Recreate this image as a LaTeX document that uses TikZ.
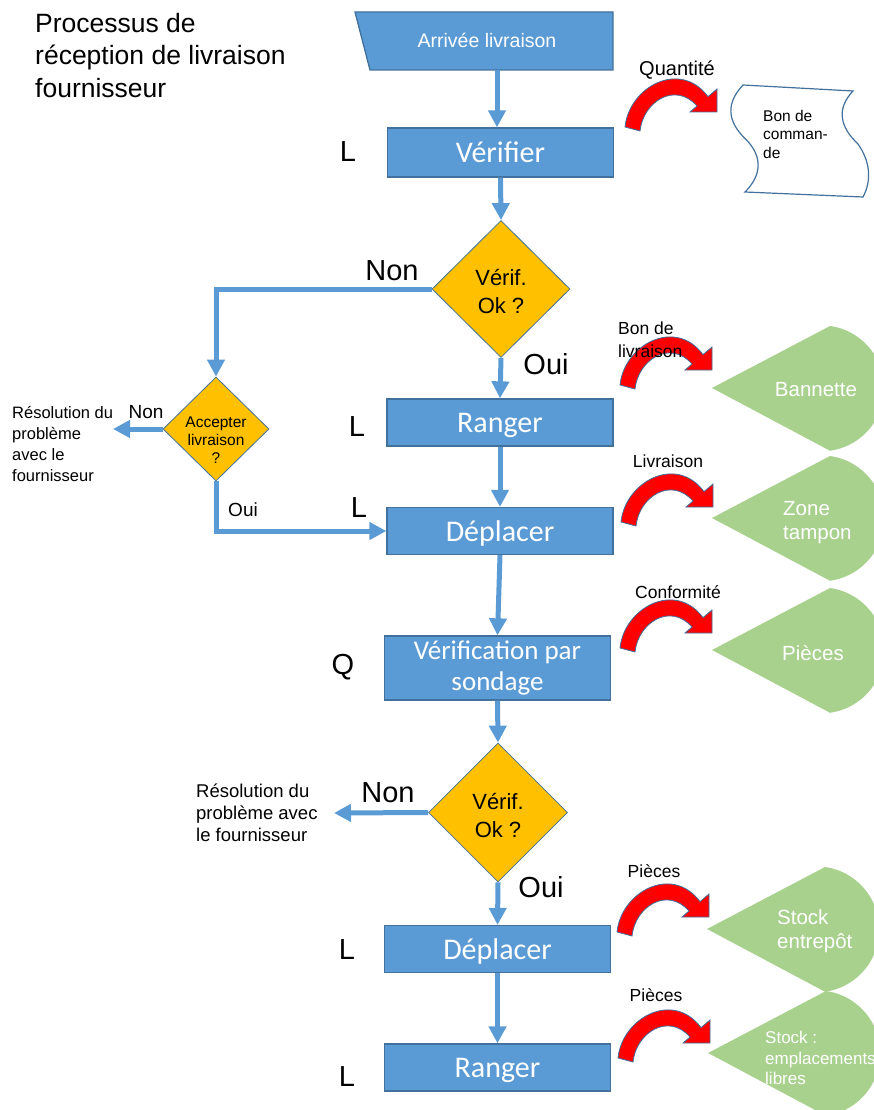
\documentclass[tikz,border=0pt]{standalone}
\usepackage{fontspec}
\setmainfont{Liberation Sans}
\newfontfamily\calfont{Carlito}
\usetikzlibrary{shapes.geometric,arrows.meta}
\definecolor{bluefill}{HTML}{5B9BD5}
\definecolor{blueline}{HTML}{41719C}
\definecolor{yel}{HTML}{FFC000}
\definecolor{grn}{HTML}{A9D18E}
\definecolor{redarr}{HTML}{FF0000}
\newcommand\myfs[2]{\fontsize{#1}{#2}\selectfont}
\tikzset{
 procbox/.style={draw=blueline, fill=bluefill, line width=1.3pt, minimum width=226pt, minimum height=47pt, inner sep=0pt, text=white, font=\calfont\myfs{30}{34}, text height=24pt, text depth=4pt},
 decision/.style={diamond, draw=blueline, fill=yel, line width=0.8pt, inner sep=0pt, aspect=1},
 flow/.style={draw=bluefill, line width=5pt, -{Triangle[width=17pt,length=17pt]}},
 biglbl/.style={inner sep=0pt, font=\myfs{29}{33}},
 smalllbl/.style={inner sep=0pt, font=\myfs{17.5}{23}},
 whitetxt/.style={inner sep=0pt, text=white, font=\myfs{20.5}{24}, align=left},
 redarrow/.pic={\filldraw[fill=redarr, draw=blueline, line width=0.8pt] (0,0) .. controls (4,-40) and (55,-68) .. (83,-30.4) -- (92,-38) -- (92,-15) -- (65,-15) -- (72,-21) .. controls (50,-46) and (18,-25) .. (15,4) -- cycle;},
 cone/.pic={\fill[grn] (0,0) -- (118,-62) arc[start angle=-82, end angle=82, radius=63] -- cycle;}
}
\begin{document}
\begin{tikzpicture}[x=1pt,y=-1pt]
\useasboundingbox (0,0) rectangle (874,1110);
% green cones
\pic at (712,388) {cone};
\pic at (712,518) {cone};
\pic at (712,650) {cone};
\pic at (707,929) {cone};
\pic at (708,1053) {cone};
% title
\node[anchor=west, inner sep=0pt, align=left, font=\myfs{26.5}{32.5}] (title) at (35,55.5) {Processus de\\réception de livraison\\fournisseur};
% start
\filldraw[fill=bluefill, draw=blueline, line width=1.3pt] (355,12) -- (613,12) -- (613,70) -- (370,70) -- cycle;
\node[text=white, font=\myfs{19.5}{22}, inner sep=0pt] (arrivee) at (487,40) {Arrivée livraison};
\coordinate (arrbot) at (497,70);
% boxes
\node[procbox, minimum height=49pt] (verifier) at (500.5,152.5) {Vérifier};
\node[procbox] (ranger1) at (500,422.5) {Ranger};
\node[procbox] (deplacer1) at (500,531) {Déplacer};
\node[procbox, minimum height=64pt, align=center, font=\calfont\myfs{27}{31}, text height=, text depth=] (sondage) at (497.5,668) {Vérification par\\sondage};
\node[procbox] (deplacer2) at (497.5,949) {Déplacer};
\node[procbox] (ranger2) at (497.5,1067.5) {Ranger};
% decisions
\node[decision, minimum width=138pt, minimum height=137pt] (d1) at (501,289) {};
\node[inner sep=0pt, align=center, font=\myfs{22}{28}] (d1t) at (501,292) {Vérif.\\Ok ?};
\node[decision, minimum width=106pt, minimum height=104pt] (d2) at (216,429) {};
\node[inner sep=0pt, align=center, font=\myfs{15.5}{18}] (d2t) at (216,440) {Accepter\\livraison\\?};
\node[decision, minimum width=139pt, minimum height=139pt] (d3) at (498,812.5) {};
\node[inner sep=0pt, align=center, font=\myfs{22}{28}] (d3t) at (498,815) {Vérif.\\Ok ?};
% connectors
\coordinate (n2end) at (113,429);
\coordinate (n3end) at (334,813);
\draw[flow] (arrbot) -- (arrbot |- verifier.north);
\draw[flow] (verifier.south) -- (d1.north);
\draw[flow] (d1.west) -| (d2.north);
\draw[flow] (d2.west) -- (n2end);
\draw[flow] (d2.south) |- (deplacer1.west);
\draw[flow] (d1.south) -- (ranger1.north);
\draw[flow] (ranger1.south) -- (deplacer1.north);
\draw[flow] (deplacer1.south) -- (sondage.north);
\draw[flow] (sondage.south) -- (d3.north);
\draw[flow] (d3.west) -- (n3end);
\draw[flow] (d3.south) -- (deplacer2.north);
\draw[flow] (deplacer2.south) -- (ranger2.north);
% side letters
\node[biglbl] (L1) at (348,152) {L};
\node[biglbl] (L2) at (357,427) {L};
\node[biglbl] (L3) at (359,508) {L};
\node[biglbl] (Q1) at (343,667) {Q};
\node[biglbl] (L4) at (347,950) {L};
\node[biglbl] (L5) at (347,1077) {L};
% branch labels
\node[biglbl] (non1) at (392,271) {Non};
\node[biglbl] (oui1) at (546,364) {Oui};
\node[biglbl] (non3) at (388,793) {Non};
\node[biglbl] (oui3) at (541,887) {Oui};
\node[inner sep=0pt, font=\myfs{19}{22}] (non2) at (146,412) {Non};
\node[inner sep=0pt, font=\myfs{19}{22}] (oui2) at (243,510) {Oui};
\node[anchor=west, inner sep=0pt, align=left, font=\myfs{16.5}{20.7}] (res1) at (12,444) {Résolution du\\problème\\avec le\\fournisseur};
\node[anchor=west, inner sep=0pt, align=left, font=\myfs{18.5}{22}] (res2) at (196,813) {Résolution du\\problème avec\\le fournisseur};
% red arrows
\pic at (625,127) {redarrow};
\pic at (620,385) {redarrow};
\pic at (621,522) {redarrow};
\pic at (620,648) {redarrow};
\pic at (617,932) {redarrow};
\pic at (618,1058) {redarrow};
\node[inner sep=0pt, font=\myfs{20}{23}] (quant) at (677,70) {Quantité};
\node[smalllbl, anchor=west, align=left] (bdl) at (618,340) {Bon de\\livraison};
\node[smalllbl] (livr) at (668,461) {Livraison};
\node[smalllbl] (conf) at (678,592) {Conformité};
\node[smalllbl] (pc1) at (654,871) {Pièces};
\node[smalllbl] (pc2) at (656,995) {Pièces};
% scroll
\filldraw[fill=white, draw=blueline, line width=1.2pt] (743,85) -- (853,91) .. controls (836,109) and (840,127) .. (858,144) .. controls (870,161) and (872,180) .. (863,197) -- (745,192) .. controls (762,175) and (763,156) .. (745,138.5) .. controls (727,121) and (726,103) .. (743,85) -- cycle;
\node[anchor=west, inner sep=0pt, align=left, font=\myfs{15.5}{18.5}] (bdc) at (763,134) {Bon de\\comman-\\de};
% green texts
\node[whitetxt] (bann) at (816,390) {Bannette};
\node[whitetxt, anchor=west] (zone) at (783,523) {Zone\\tampon};
\node[whitetxt] (pieces) at (813,653) {Pièces};
\node[whitetxt, anchor=west] (stock1) at (777,931) {Stock\\entrepôt};
\node[whitetxt, anchor=west, font=\myfs{17}{20.5}] (stock2) at (765,1058) {Stock :\\emplacements\\libres};
\end{tikzpicture}
\end{document}
